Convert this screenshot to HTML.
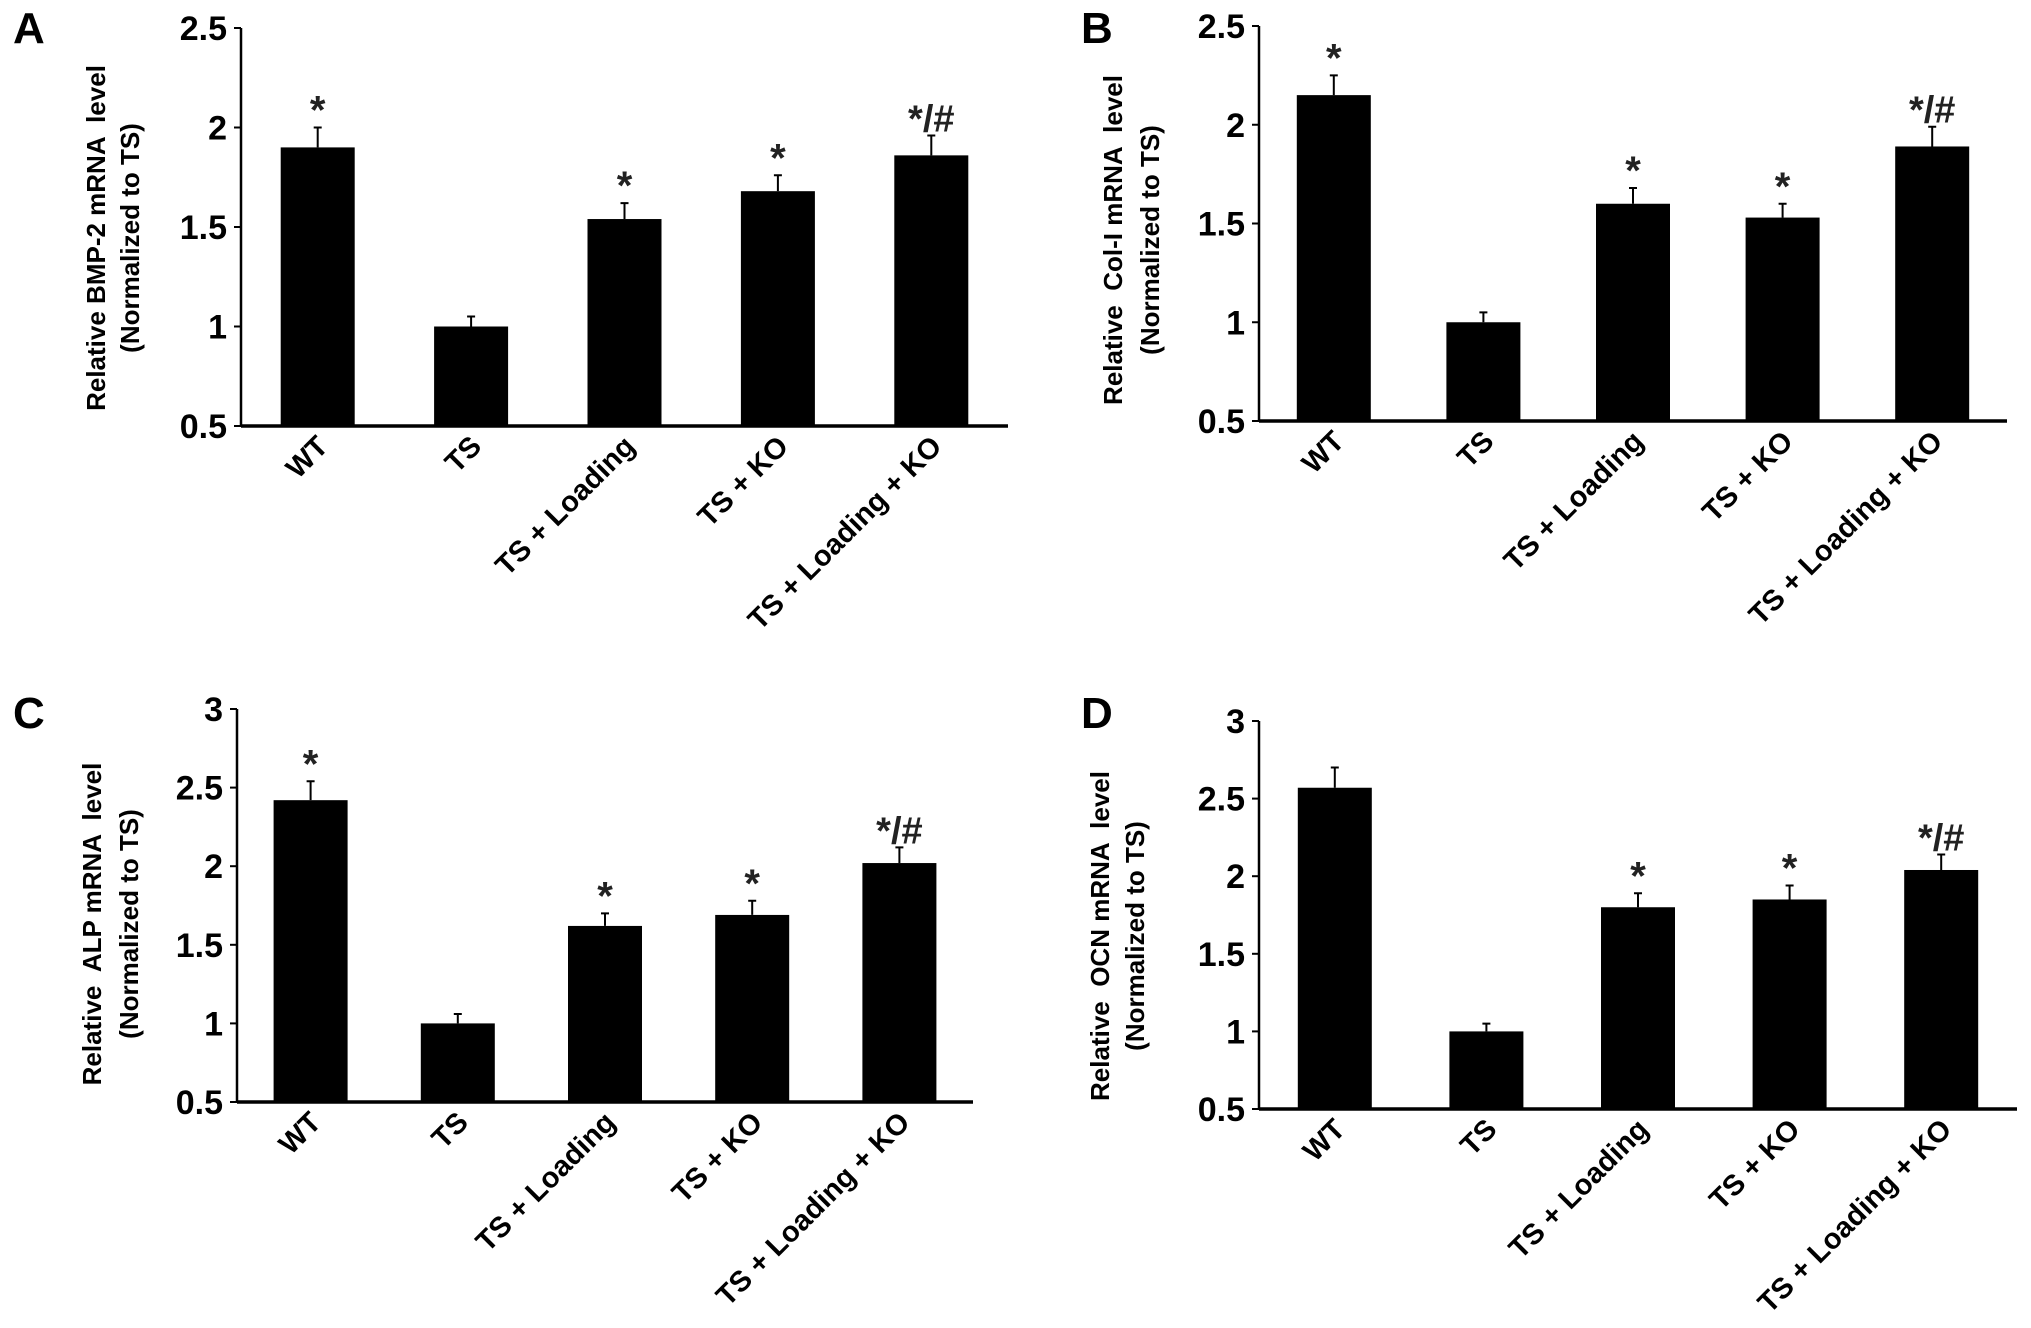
<!DOCTYPE html>
<html><head><meta charset="utf-8"><style>
html,body{margin:0;padding:0;background:#fff;}
svg{display:block;font-family:"Liberation Sans",Arial,sans-serif;font-weight:bold;}
</style></head><body>
<svg id="fig" width="2031" height="1328" viewBox="0 0 2031 1328" xmlns="http://www.w3.org/2000/svg"></svg>
<script>
const categories = ["WT","TS","TS + Loading","TS + KO","TS + Loading + KO"];
const valuesA = [1.90, 1.00, 1.54, 1.68, 1.86];
const errorsA = [0.10, 0.05, 0.08, 0.08, 0.10];
const marksA = ["*","","*","*","*/#"];
const valuesB = [2.15, 1.00, 1.60, 1.53, 1.89];
const errorsB = [0.10, 0.05, 0.08, 0.07, 0.10];
const marksB = ["*","","*","*","*/#"];
const valuesC = [2.42, 1.00, 1.62, 1.69, 2.02];
const errorsC = [0.12, 0.06, 0.08, 0.09, 0.10];
const marksC = ["*","","*","*","*/#"];
const valuesD = [2.57, 1.00, 1.80, 1.85, 2.04];
const errorsD = [0.13, 0.05, 0.09, 0.09, 0.10];
const marksD = ["","","*","*","*/#"];
const ticksAB = [0.5, 1, 1.5, 2, 2.5];
const tickLabelsAB = ["0.5","1","1.5","2","2.5"];
const ticksCD = [0.5, 1, 1.5, 2, 2.5, 3];
const tickLabelsCD = ["0.5","1","1.5","2","2.5","3"];

const NS = "http://www.w3.org/2000/svg";
const svg = document.getElementById('fig');
function mk(tag, attrs, parent){
  const e = document.createElementNS(NS, tag);
  for (const k in attrs) e.setAttribute(k, attrs[k]);
  (parent||svg).appendChild(e);
  return e;
}

const panels = [
  {id:"a", letter:"A", lx:13, ly:43, ax:241, xEnd:1008, yTop:28, yBot:426, yMin:0.5, yMax:2.5,
   ticks:ticksAB, tl:tickLabelsAB, vals:valuesA, errs:errorsA, marks:marksA,
   t1:"Relative BMP-2 mRNA  level", t2:"(Normalized to TS)", tx1:96, tx2:130, ty:238},
  {id:"b", letter:"B", lx:1081, ly:43, ax:1259, xEnd:2007, yTop:26, yBot:421, yMin:0.5, yMax:2.5,
   ticks:ticksAB, tl:tickLabelsAB, vals:valuesB, errs:errorsB, marks:marksB,
   t1:"Relative  Col-I mRNA  level", t2:"(Normalized to TS)", tx1:1113, tx2:1150, ty:240},
  {id:"c", letter:"C", lx:13, ly:728, ax:237, xEnd:973, yTop:709, yBot:1102, yMin:0.5, yMax:3,
   ticks:ticksCD, tl:tickLabelsCD, vals:valuesC, errs:errorsC, marks:marksC,
   t1:"Relative  ALP mRNA  level", t2:"(Normalized to TS)", tx1:92, tx2:129, ty:924},
  {id:"d", letter:"D", lx:1081, ly:728, ax:1259, xEnd:2017, yTop:721, yBot:1109, yMin:0.5, yMax:3,
   ticks:ticksCD, tl:tickLabelsCD, vals:valuesD, errs:errorsD, marks:marksD,
   t1:"Relative  OCN mRNA  level", t2:"(Normalized to TS)", tx1:1100, tx2:1135, ty:936}
];

panels.forEach(p => {
  const g = mk('g', {});
  
  
  const y = v => p.yBot - (v - p.yMin) / (p.yMax - p.yMin) * (p.yBot - p.yTop);
  const band = (p.xEnd - p.ax) / categories.length;
  const xc = i => p.ax + band * (i + 0.5);
  const bw = 74;

  const L = mk('text', {x:p.lx, y:p.ly, 'font-size':44}, g);
  L.textContent = p.letter;
  
  

  p.vals.forEach((v, i) => {
    const r = mk('rect', {x:xc(i)-bw/2, y:y(v), width:bw, height:p.yBot - y(v), fill:'#000'}, g);
    
    
    const top = y(v + p.errs[i]);
    const e = mk('path', {d:`M${xc(i)} ${y(v)} V${top} M${xc(i)-4} ${top} H${xc(i)+4}`, stroke:'#000', 'stroke-width':2, fill:'none'}, g);
    
    
    if (p.marks[i]) {
      const m = mk('text', {x:xc(i), y:top - 4, 'text-anchor':'middle', 'font-size': p.marks[i].length > 1 ? 38 : 40, fill:'#222'}, g);
      m.textContent = p.marks[i];
      
      
    }
    const lbl = mk('text', {x:0, y:0, 'text-anchor':'end', 'font-size':29,
      transform:`translate(${xc(i)+12},${p.yBot+22}) rotate(-45)`}, g);
    lbl.textContent = categories[i];
    
    
  });

  const yAx = mk('line', {x1:p.ax, y1:p.yTop, x2:p.ax, y2:p.yBot, stroke:'#000', 'stroke-width':2.5}, g);
  
  
  const xAx = mk('line', {x1:p.ax, y1:p.yBot, x2:p.xEnd, y2:p.yBot, stroke:'#000', 'stroke-width':3.5}, g);
  
  

  p.ticks.forEach((t, k) => {
    mk('line', {x1:p.ax-7, y1:y(t), x2:p.ax, y2:y(t), stroke:'#000', 'stroke-width':2}, g);
    const tt = mk('text', {x:p.ax-14, y:y(t)+12, 'text-anchor':'end', 'font-size':34}, g);
    tt.textContent = p.tl[k];
    
    
  });

  [p.t1, p.t2].forEach((s, k) => {
    const tx = k ? p.tx2 : p.tx1;
    const t = mk('text', {x:0, y:0, 'text-anchor':'middle', 'dominant-baseline':'central', 'font-size':26,
      transform:`translate(${tx},${p.ty}) rotate(-90)`}, g);
    t.textContent = s;
    
    
    t.style.whiteSpace = 'pre';
  });
});
</script>
</body></html>
